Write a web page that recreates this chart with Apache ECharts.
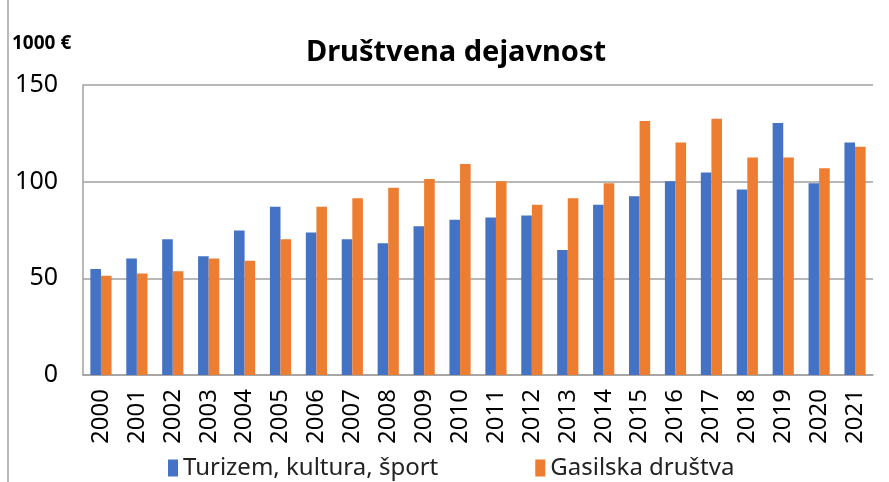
<!DOCTYPE html>
<html>
<head>
<meta charset="utf-8">
<script src="https://cdn.jsdelivr.net/npm/echarts@6/dist/echarts.min.js"></script>
<style>
  html, body { margin: 0; padding: 0; background: #fff; }
  #box { width: 889px; height: 482px; }
</style>
</head>
<body>
<div id="box"></div>
<script>
const years = ["2000", "2001", "2002", "2003", "2004", "2005", "2006", "2007", "2008", "2009", "2010",
  "2011", "2012", "2013", "2014", "2015", "2016", "2017", "2018", "2019", "2020", "2021"];
const turizem = [54.8, 60.2, 70.2, 61.4, 74.7, 87.0, 73.7, 70.2, 68.1, 77.0, 80.3,
  81.5, 82.5, 64.7, 88.1, 92.4, 100.2, 104.7, 95.9, 130.4, 99.2, 120.3];
const gasilci = [51.3, 52.5, 53.6, 60.2, 59.1, 70.2, 87.0, 91.4, 96.9, 101.4, 109.1,
  100.2, 88.1, 91.4, 99.2, 131.4, 120.3, 132.5, 112.5, 112.5, 107.0, 118.1];
const yTicks = [0, 50, 100, 150];

const font = "Noto Sans";
const myChart = echarts.init(document.getElementById("box"));
const option = {
  animation: false,
  textStyle: { fontFamily: font },
  title: {
    text: "Društvena dejavnost",
    left: 451,
    textAlign: "center",
    top: 33,
    textStyle: { fontSize: 29, fontWeight: "bold", color: "#000", fontFamily: font }
  },
  graphic: [
    {
      type: "text",
      left: 12,
      top: 34,
      style: { text: "1000 €", fontSize: 19, fontWeight: "bold", fill: "#000", fontFamily: font }
    },
    {
      type: "line",
      shape: { x1: 8, y1: 0, x2: 8, y2: 482 },
      style: { stroke: "#a6a6a6", lineWidth: 1.5 }
    }
  ],
  legend: {
    left: 163,
    top: 451,
    itemWidth: 10,
    itemHeight: 17,
    itemGap: 97,
    icon: "rect",
    textStyle: { fontSize: 24, color: "#222", fontFamily: font },
    data: ["Turizem, kultura, šport", "Gasilska društva"]
  },
  grid: { left: 83, right: 16, top: 85, bottom: 107 },
  xAxis: {
    type: "category",
    data: years,
    axisLine: { lineStyle: { color: "#a0a0a0", width: 1.5 } },
    axisTick: { show: false },
    axisLabel: { rotate: 90, fontSize: 24, color: "#000", margin: 14, fontFamily: font }
  },
  yAxis: {
    type: "value",
    min: yTicks[0],
    max: yTicks[yTicks.length - 1],
    interval: 50,
    axisLine: { show: true, lineStyle: { color: "#a0a0a0", width: 1.5 } },
    axisTick: { show: false },
    axisLabel: { fontSize: 25, color: "#000", margin: 25, fontFamily: font },
    splitLine: { lineStyle: { color: "#a0a0a0", width: 1.5 } }
  },
  series: [
    {
      name: "Turizem, kultura, šport",
      type: "bar",
      data: turizem,
      barGap: "0%",
      barCategoryGap: "41%",
      itemStyle: { color: "#4472C4" }
    },
    {
      name: "Gasilska društva",
      type: "bar",
      data: gasilci,
      itemStyle: { color: "#ED7D31" }
    }
  ]
};
myChart.setOption(option);
</script>
</body>
</html>
